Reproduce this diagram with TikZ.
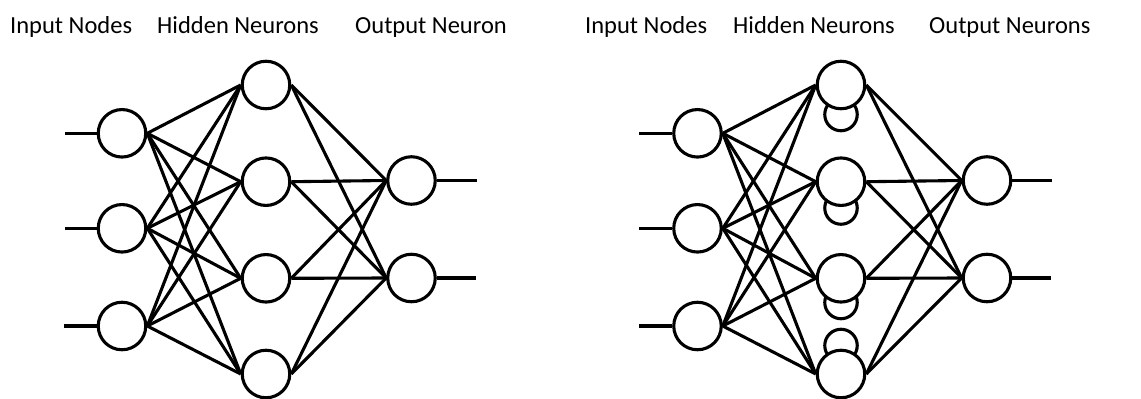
\documentclass[tikz,border=0pt]{standalone}
\usepackage{fontspec}
\setmainfont{Carlito}
\begin{document}
\begin{tikzpicture}[x=1pt,y=-1pt,
  neuron/.style={circle,draw=black,fill=white,line width=3.1pt,minimum size=47.5pt,inner sep=0pt},
  loopc/.style={circle,draw=black,fill=white,line width=3.1pt,minimum size=32.5pt,inner sep=0pt},
  wire/.style={line width=3.1pt,draw=black},
  title/.style={anchor=base west,inner sep=0pt,font=\fontsize{24.5}{28}\selectfont}]
\useasboundingbox (0,0) rectangle (1141,399);

% column headings
\node[title] (t1) at (10,33.3) {Input Nodes};
\node[title] (t2) at (157,33.3) {Hidden Neurons};
\node[title] (t3) at (355,33.3) {Output Neuron};
\node[title] (t4) at (585,33.3) {Input Nodes};
\node[title] (t5) at (733,33.3) {Hidden Neurons};
\node[title] (t6) at (929,33.3) {Output Neurons};

% ---------- feed-forward network ----------
\foreach \i/\y in {1/133.3,2/228.3,3/326}
  \node[neuron] (li\i) at (122,\y) {};
\foreach \i/\y in {1/85,2/181.7,3/278.3,4/374}
  \node[neuron] (lh\i) at (266,\y) {};
\foreach \i/\y in {1/180.5,2/278}
  \node[neuron] (lo\i) at (411.5,\y) {};

\coordinate (lin1) at (65,133.3);
\coordinate (lin2) at (65,228.3);
\coordinate (lin3) at (64,326);
\coordinate (lout1) at (477,180.5);
\coordinate (lout2) at (476,278);

\foreach \i in {1,2,3}
  \draw[wire] (lin\i) -- (li\i.west);
\foreach \i in {1,2}
  \draw[wire] (lo\i.east) -- (lout\i);
\foreach \i in {1,2,3}
  \foreach \j in {1,2,3,4}
    \draw[wire] (li\i.east) -- (lh\j.west);
\foreach \j in {1,2,3,4}
  \foreach \k in {1,2}
    \draw[wire] (lh\j.east) -- (lo\k.west);

% ---------- recurrent network (self loops on hidden layer) ----------
\node[loopc] (rs1) at (841,114.5) {};
\node[loopc] (rs2) at (841,208) {};
\node[loopc] (rs3) at (841,302.5) {};
\node[loopc] (rs4) at (841,345.5) {};

\foreach \i/\y in {1/133.3,2/228.3,3/326}
  \node[neuron] (ri\i) at (697.5,\y) {};
\foreach \i/\y in {1/85,2/181.7,3/278.3,4/374}
  \node[neuron] (rh\i) at (841,\y) {};
\foreach \i/\y in {1/180.5,2/278}
  \node[neuron] (ro\i) at (987,\y) {};

\coordinate (rin1) at (639,133.3);
\coordinate (rin2) at (639,228.3);
\coordinate (rin3) at (639,326);
\coordinate (rout1) at (1052,180.5);
\coordinate (rout2) at (1051,278);

\foreach \i in {1,2,3}
  \draw[wire] (rin\i) -- (ri\i.west);
\foreach \i in {1,2}
  \draw[wire] (ro\i.east) -- (rout\i);
\foreach \i in {1,2,3}
  \foreach \j in {1,2,3,4}
    \draw[wire] (ri\i.east) -- (rh\j.west);
\foreach \j in {1,2,3,4}
  \foreach \k in {1,2}
    \draw[wire] (rh\j.east) -- (ro\k.west);
\end{tikzpicture}
\end{document}
